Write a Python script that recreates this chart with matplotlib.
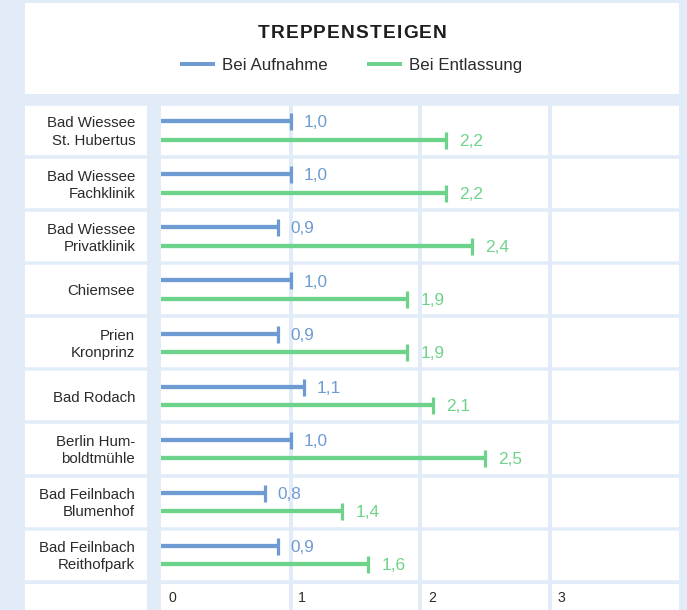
import matplotlib
matplotlib.use("Agg")
import matplotlib.pyplot as plt
from matplotlib.lines import Line2D

plt.rcParams['font.family'] = ['Liberation Sans', 'DejaVu Sans']

# ---- data ----
categories = ["Bad Wiessee\nSt. Hubertus", "Bad Wiessee\nFachklinik", "Bad Wiessee\nPrivatklinik",
              "Chiemsee", "Prien\nKronprinz", "Bad Rodach", "Berlin Hum-\nboldtmühle",
              "Bad Feilnbach\nBlumenhof", "Bad Feilnbach\nReithofpark"]
aufnahme = [1.0, 1.0, 0.9, 1.0, 0.9, 1.1, 1.0, 0.8, 0.9]
entlassung = [2.2, 2.2, 2.4, 1.9, 1.9, 2.1, 2.5, 1.4, 1.6]
series_labels = ["Bei Aufnahme", "Bei Entlassung"]
x_ticks = [0, 1, 2, 3]
title = "TREPPENSTEIGEN"

# ---- style ----
BG = "#e1ecf8"
BLUE = "#6f9bd3"
GREEN = "#6ed38a"
TXT = "#2b2b2b"
W, H = 687, 610
DPI = 100
PT = 72.0 / DPI  # points per pixel


def rect(l, t, r, b):
    return [l / W, 1 - b / H, (r - l) / W, (b - t) / H]


fig = plt.figure(figsize=(W / DPI, H / DPI), dpi=DPI, facecolor=BG)
renderer = fig.canvas.get_renderer()


def blank(ax, fc="white"):
    ax.set_facecolor(fc)
    ax.set_xticks([])
    ax.set_yticks([])
    for s in ax.spines.values():
        s.set_visible(False)


# title panel
ax_t = fig.add_axes(rect(25, 3.3, 679.3, 94.3))
blank(ax_t)
ax_t.set_xlim(0, 1)
ax_t.set_ylim(0, 1)

# letter-spaced title
t_size, t_track = 13.8, 1.2
widths = []
for ch in title:
    tmp = fig.text(0, 0, ch, fontsize=t_size, fontweight="bold")
    widths.append(tmp.get_window_extent(renderer).width)
    tmp.remove()
total = sum(widths) + t_track * (len(title) - 1)
xc = (25 + 679.3) / 2 - total / 2
for ch, w in zip(title, widths):
    fig.text(xc / W, 1 - 33.8 / H, ch, ha="left", va="center", fontsize=t_size,
             fontweight="bold", color="#1e1e1e")
    xc += w + t_track

n = len(categories)
ylim = (n - 0.5, -0.5)

# label panel
ax_l = fig.add_axes(rect(25, 103.95, 146.7, 581.75))
blank(ax_l)
ax_l.set_xlim(0, 1)
ax_l.set_ylim(*ylim)
for i, c in enumerate(categories):
    ax_l.text(0.905, i + 0.03, c, ha="right", va="center", fontsize=10.8,
              color=TXT, linespacing=1.3)
for k in range(-1, n):
    ax_l.axhline(k + 0.5, color=BG, lw=3.5 * PT, clip_on=False)

# main panel
ax = fig.add_axes(rect(161, 103.95, 679.3, 581.75))
blank(ax)
ax.set_xlim(0, 4)
ax.set_ylim(*ylim)
for v in [1, 2, 3]:
    ax.axvline(v, color=BG, lw=4 * PT, zorder=1)
for k in range(-1, n):
    ax.axhline(k + 0.5, color=BG, lw=3.5 * PT, zorder=1, clip_on=False)

off_a, off_e = -0.175, 0.17
ya = [i + off_a for i in range(n)]
ye = [i + off_e for i in range(n)]
ax.hlines(ya, 0, aufnahme, color=BLUE, lw=4.3 * PT, zorder=3)
ax.hlines(ye, 0, entlassung, color=GREEN, lw=4.3 * PT, zorder=3)
ax.plot(aufnahme, ya, ls="none", marker="|", ms=17 * PT, mew=3.2 * PT, color=BLUE, zorder=4)
ax.plot(entlassung, ye, ls="none", marker="|", ms=17 * PT, mew=3.2 * PT, color=GREEN, zorder=4)
for y, v in zip(ya, aufnahme):
    ax.text(v + 0.1, y + 0.03, f"{v:.1f}".replace(".", ","), ha="left", va="center",
            fontsize=12.4, color=BLUE, zorder=5)
for y, v in zip(ye, entlassung):
    ax.text(v + 0.1, y + 0.03, f"{v:.1f}".replace(".", ","), ha="left", va="center",
            fontsize=12.4, color=GREEN, zorder=5)

# axis row
ax_al = fig.add_axes(rect(25, 584.3, 146.7, 640))
blank(ax_al)
ax_ax = fig.add_axes(rect(161, 584.3, 679.3, 640))
blank(ax_ax)
ax_ax.set_xlim(0, 4)
ax_ax.set_ylim(0, 1)
for v in [1, 2, 3]:
    ax_ax.axvline(v, color=BG, lw=4 * PT)
for v in x_ticks:
    ax_ax.text(v + 0.06, 1 - (598 - 584.3) / 55.7, str(v), ha="left", va="center",
               fontsize=10.2, color=TXT)

# legend
handles = [Line2D([], [], color=BLUE, lw=4 * PT), Line2D([], [], color=GREEN, lw=4 * PT)]
leg = ax_t.legend(handles, series_labels, loc="center", ncol=2, frameon=False,
                  bbox_to_anchor=(0.5, 1 - (65.7 - 3.3) / 91), fontsize=12.2,
                  handlelength=1.85, handletextpad=0.55, columnspacing=2.4,
                  labelcolor=TXT)

fig.savefig("out.png", dpi=DPI, facecolor=BG)
